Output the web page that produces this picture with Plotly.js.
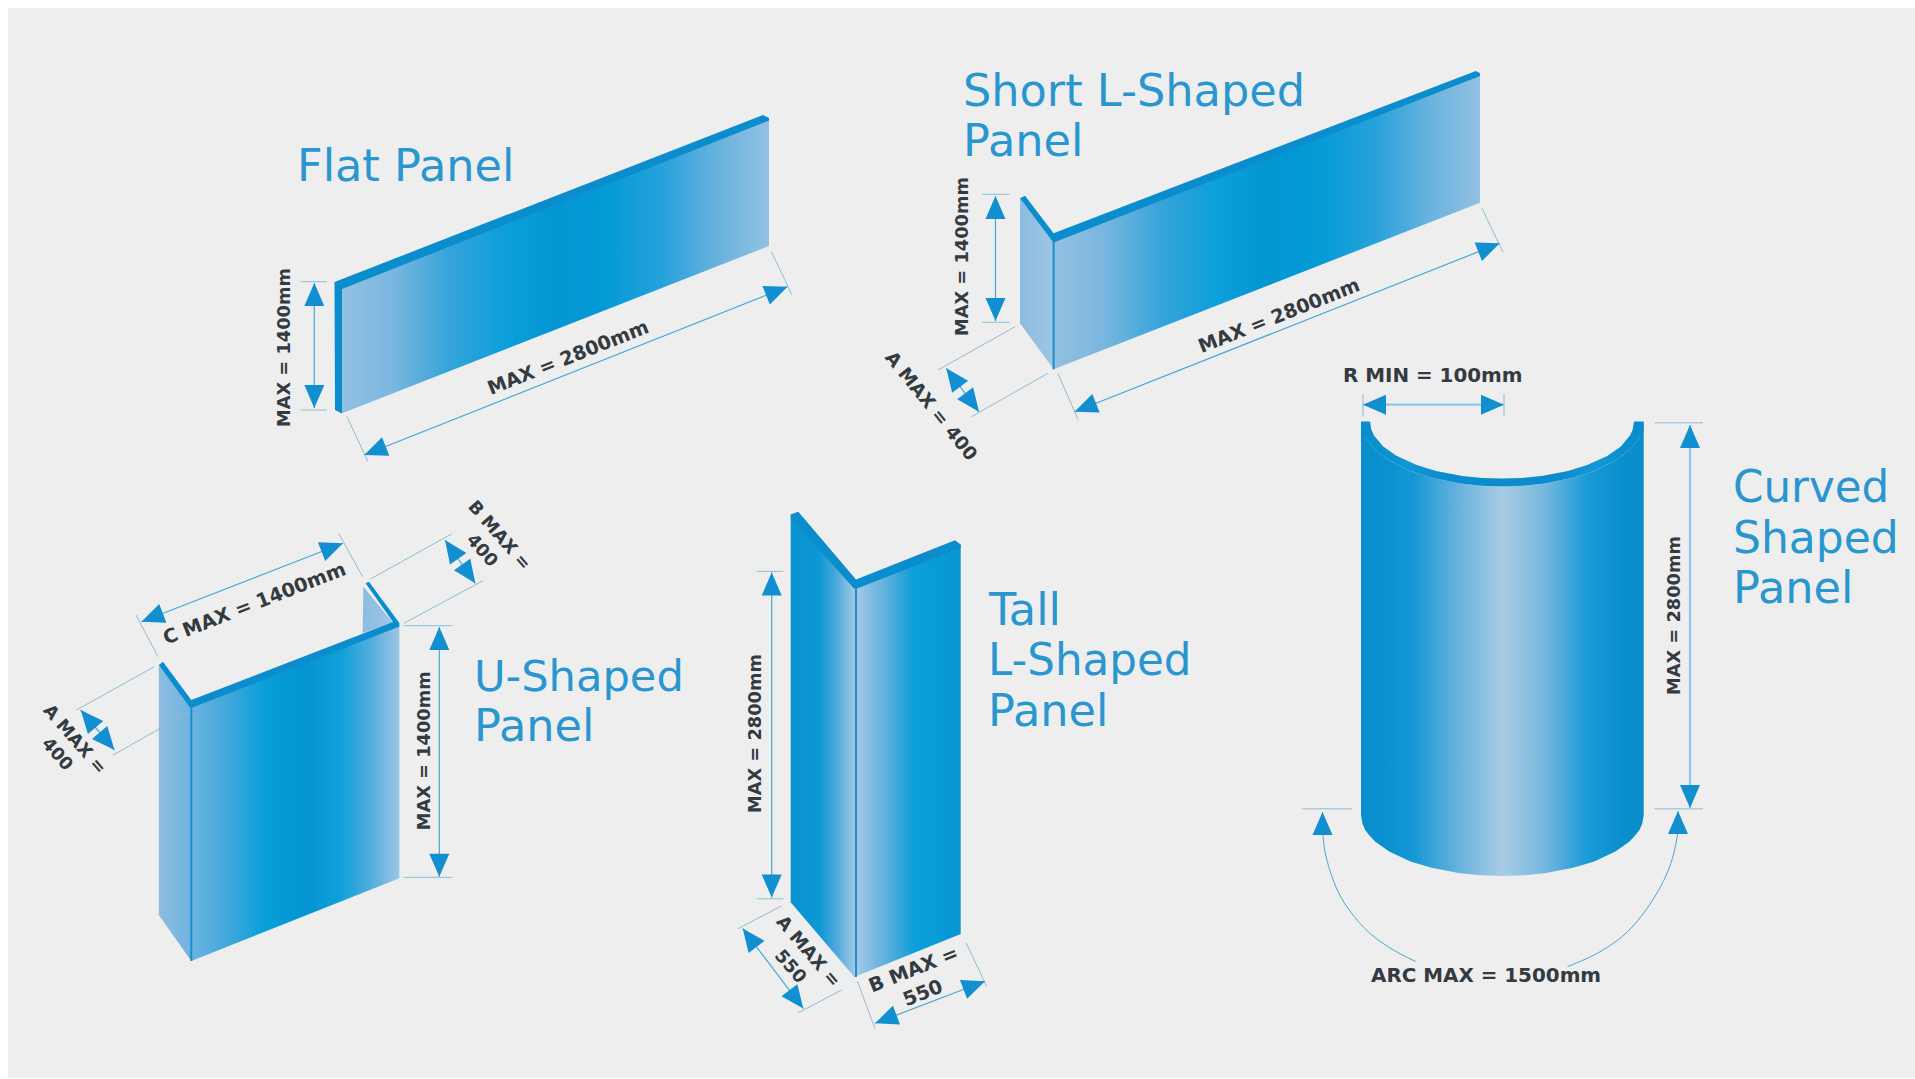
<!DOCTYPE html>
<html>
<head>
<meta charset="utf-8">
<script src="https://cdn.plot.ly/plotly-3.0.1.min.js"></script>
<style>html,body{margin:0;padding:0;background:#fff;overflow:hidden}#chart{width:1915px;height:1079px}</style>
</head>
<body>
<div id="chart"></div>
<script>
// ---------- Outlines (x, y in picture pixels) ----------
const backdrop = [[8,8],[1915,8],[1915,1078],[8,1078]];

const flatFace = [[342,288],[769,119.5],[769,246],[342,413.3]];
const flatBand = [[334.5,282],[763,115],[769,118],[769,120.5],[342,289],[342,413.5],[335,410]];

const shortSide = [[1020,198.3],[1053.6,241.7],[1053.6,369.3],[1020,323.3]];
const shortFace = [[1053.6,241.7],[1480,75],[1480,202.7],[1053.6,369.3]];
const shortBand = [[1020,198.3],[1025,195.7],[1053.6,233.3],[1475.8,71],[1480,73.3],[1480,76],[1055,242],[1053,242]];

const uLeftSide = [[158.8,665],[191.3,706.7],[191.3,961],[158.8,915]];
const uInnerSide = [[363.4,586.7],[393,622.7],[362.6,633]];
const uFace = [[191.3,706.7],[399.4,625.7],[399.4,878.3],[191.3,961]];
const uBand = [[158.8,665],[163,661.7],[191.3,700],[393,622],[365.6,583.3],[369,581.7],[399.4,623],[399.4,626.5],[192.5,707.5],[190,707.5]];

const tallLeft = [[790.7,514.6],[855,588],[855,977.7],[790.7,902.3]];
const tallRight = [[856.7,587.5],[960.7,544.4],[960.7,933.9],[856.7,976]];
const tallBand = [[790.7,514.6],[798.3,511.8],[856,579.5],[955,540.2],[960.7,544.4],[960.7,548],[857,588.5],[854,588.5],[790.7,518]];

const curvedBody = [[1361,421.5],[1362.4,431],[1365,437.3],[1375,449.8],[1389.2,460.5],[1410.4,470.9],[1431.6,477.8],[1459.9,483.5],[1481.1,485.8],[1502.3,486.5],[1523.5,485.8],[1544.7,483.5],[1573,477.8],[1594.2,470.9],[1615.4,460.5],[1629.6,449.8],[1639.6,437.3],[1642.3,431],[1643.7,421.5],
  [1643.7,815],[1642.3,823.6],[1639.6,829.8],[1636,834.5],[1629.6,841.6],[1615.4,851.6],[1594.2,861.4],[1573,867.8],[1544.7,873.2],[1523.5,875.3],[1502.3,876],[1481.1,875.3],[1459.9,873.2],[1431.6,867.8],[1410.4,861.4],[1389.2,851.6],[1375,841.6],[1368.6,834.5],[1365,829.8],[1362.4,823.6],[1361,815]];
const curvedBand = [[1361,421.5],[1370,421.5],[1371.3,429.5],[1374,435.4],[1383.2,446.4],[1396.4,455.7],[1416.2,464.8],[1436,470.9],[1462.4,475.9],[1482.2,477.9],[1502,478.5],[1521.8,477.9],[1541.6,475.9],[1568,470.9],[1587.8,464.8],[1607.6,455.7],[1620.8,446.4],[1630,435.4],[1632.7,429.5],[1634,421.5],[1643.7,421.5],
  [1643.7,432],[1639.6,437.3],[1629.6,449.8],[1615.4,460.5],[1594.2,470.9],[1573,477.8],[1544.7,483.5],[1523.5,485.8],[1502.3,486.5],[1481.1,485.8],[1459.9,483.5],[1431.6,477.8],[1410.4,470.9],[1389.2,460.5],[1375,449.8],[1365,437.3],[1361,432]];

// Corner fold lines
const foldLines = [[1053.6,241.7,1053.6,369.3],[191.3,706.7,191.3,961],[856,588,856,977]];

// Extension (tick) lines: x0,y0,x1,y1
const extensionLines = [
  [300.7,281.7,326.8,281.7],[300.7,410,326.8,410],[347,416.7,368,461.7],[771.4,251.7,792,295],
  [982,194.3,1009.4,194.3],[982,322.3,1009.4,322.3],[938,370,1015,326.7],[971.5,416.7,1048,373.3],[1057.8,373.3,1078,419.3],[1482,208.3,1503,252.3],
  [136,615,158,656.7],[338.7,533.3,362.6,576.7],[370.4,579,451.5,534],[403.8,623.3,483,580.7],[76.4,710,154.4,666.7],[113,755,190,711.7],[403.8,625.7,452.3,625.7],[403.8,877.3,452.3,877.3],
  [756.7,571.4,783.3,571.4],[756.7,898.8,783.3,898.8],[738.3,928.6,781.7,905.8],[798.3,1012.8,841.7,990],[857.3,981,875,1028.6],[966,942.6,986.7,986.5],
  [1363,394,1363,416.5],[1504,394,1504,416.5],[1654.6,422.8,1703,422.8],[1654.6,808.8,1703,808.8],[1302.3,808.8,1352,808.8]
];

// Double-headed dimension arrows: tip x0,y0, tip x1,y1
const dimensionArrows = [
  [314.3,283,314.3,408],[364.3,455,787.5,286.7],
  [995.5,196,995.5,321],[946.3,368.3,979,411.7],[1074.6,411.7,1499.7,243.3],
  [141.4,621.7,343,543.3],[445,540,475.3,583.3],[80.7,710,114.5,750],[439.3,627,439.3,876.7],
  [771.7,572.5,771.7,897.5],[742.7,928.6,803.3,1008.6],[875,1023.3,985,981.2]
];
const paleArrows = [[1363,404.7,1504,404.7],[1690,425,1690,808]];

// Curved arc (1500 mm) leaders and their heads
const arcLeft = [[1322.5,812],[1322.5,830],[1326.6,859],[1340.8,897],[1365,928.7],[1389.4,947.6],[1415.7,961.5]];
const arcRight = [[1678,810.9],[1678,830],[1670.8,863.5],[1654.6,897],[1628.3,931],[1600,951.8],[1567.6,966.6]];

// Panel titles: text, left x, centre y, size
const titleText = ["Flat Panel","Short L-Shaped","Panel","U-Shaped","Panel","Tall","L-Shaped","Panel","Curved","Shaped","Panel"];
const titleX = [295,961,961,472,472,986,986,986,1731,1731,1731];
const titleY = [166,91,141,676,726,610,660,711,487,537,588];
const titleSize = [44.6,44.6,44.6,43.2,44.6,44.6,43.6,44.6,43.6,44,44.6];

// Dimension labels: text, centre x, centre y, angle, size
const labelText = ["MAX = 1400mm","MAX = 2800mm","MAX = 1400mm","A MAX = 400","MAX = 2800mm","C MAX = 1400mm","B MAX =<br>400","A MAX =<br>400","MAX = 1400mm","MAX = 2800mm","A MAX =<br>550","B MAX =<br>550","R MIN = 100mm","MAX = 2800mm","ARC MAX = 1500mm"];
const labelX = [283,568,961,931.5,1279,254,491,66.5,423.3,754,800,918,1433,1673,1486];
const labelY = [348,357,257,405,315,603,542,746,751,734,957.5,981,375,616,975];
const labelAngle = [-90,-21.7,-90,51,-21.6,-21.3,49,49,-90,-90,49.4,-21.6,0,-90,0];
const labelSize = [17.8,19.2,17.8,18.4,19.2,19.4,17.6,17.6,17.8,17.8,18,19.5,19.9,17.8,19.9];

// ---------- Colours ----------
const BLUE = "#0b8dcd";
const flatRamp = [[0,"#93c0e2"],[0.12,"#79b6df"],[0.25,"#36a4da"],[0.38,"#0c9fd9"],[0.5,"#0396d3"],[0.62,"#049bd7"],[0.75,"#25a1da"],[0.88,"#68b2de"],[1,"#93c1e2"]];
const uRamp = [[0,"#6cb4df"],[0.2,"#3ba6db"],[0.35,"#08a0d9"],[0.55,"#0394d1"],[0.72,"#10a0d9"],[0.85,"#4cabdc"],[1,"#9cc5e5"]];
const shortSideRamp = [[0,"#8cbce0"],[1,"#9ec6e5"]];
const uSideRamp = [[0,"#8dbde1"],[1,"#6fb3df"]];
const tallLeftRamp = [[0,"#0792d1"],[0.45,"#0c99d6"],[0.7,"#4aa8da"],[1,"#a3c7e6"]];
const tallRightRamp = [[0,"#a3c7e6"],[0.3,"#5aaedc"],[0.55,"#0c9fd9"],[1,"#0596d3"]];
const curvedRamp = [[0,"#0a8dcd"],[0.08,"#0a90cf"],[0.186,"#1598d5"],[0.358,"#6db5de"],[0.5,"#a9cce5"],[0.645,"#78b8de"],[0.8,"#1a9ad6"],[0.92,"#0a8fce"],[1,"#0a8ccb"]];
const curvedBandRamp = [[0,"#0a8dcd"],[0.08,"#0a90cf"],[0.15,"#1196d4"],[0.3,"#0b8dcd"],[0.7,"#0b8dcd"],[0.83,"#1497d5"],[0.92,"#0a8fce"],[1,"#0a8ccb"]];

// ---------- Drawing helpers ----------
const xs = p => p.map(q => q[0]).concat(p[0][0]);
const ys = p => p.map(q => q[1]).concat(p[0][1]);
const base = {type:"scatter",hoverinfo:"skip",showlegend:false};
const solid = (p,c) => ({...base,x:xs(p),y:ys(p),mode:"lines",line:{width:0},fill:"toself",fillcolor:c});
const graded = (p,r) => ({...base,x:xs(p),y:ys(p),mode:"lines",line:{width:0},fill:"toself",fillcolor:"rgba(0,0,0,0)",fillgradient:{type:"horizontal",colorscale:r}});
function segs(list){
  const x=[],y=[];
  list.forEach(s=>{x.push(s[0],s[2],null);y.push(s[1],s[3],null);});
  return {x,y};
}
function head(tx,ty,dx,dy,L,W){
  const n=Math.hypot(dx,dy);dx/=n;dy/=n;
  return [[tx,ty],[tx+dx*L-dy*W,ty+dy*L+dx*W],[tx+dx*L+dy*W,ty+dy*L-dx*W]];
}
const headsX=[],headsY=[];
function addHead(h){h.forEach(q=>{headsX.push(q[0]);headsY.push(q[1]);});headsX.push(h[0][0],null);headsY.push(h[0][1],null);}
dimensionArrows.concat(paleArrows).forEach(a=>{
  const dx=a[2]-a[0],dy=a[3]-a[1];
  addHead(head(a[0],a[1],dx,dy,23,10));
  addHead(head(a[2],a[3],-dx,-dy,23,10));
});
addHead(head(arcLeft[0][0],arcLeft[0][1],0,1,23,10));
addHead(head(arcRight[0][0],arcRight[0][1],0,1,23,10));

const ext=segs(extensionLines), dim=segs(dimensionArrows), pale=segs(paleArrows), fold=segs(foldLines);
const data=[
  solid(backdrop,"#eeeeee"),
  graded(flatFace,flatRamp), solid(flatBand,BLUE),
  graded(shortSide,shortSideRamp), graded(shortFace,flatRamp), solid(shortBand,BLUE),
  graded(uInnerSide,shortSideRamp), graded(uLeftSide,uSideRamp), graded(uFace,uRamp), solid(uBand,BLUE),
  graded(tallLeft,tallLeftRamp), graded(tallRight,tallRightRamp), solid(tallBand,BLUE),
  graded(curvedBody,curvedRamp), graded(curvedBand,curvedBandRamp),
  {...base,x:fold.x,y:fold.y,mode:"lines",line:{color:"#1a8ecb",width:2}},
  {...base,x:ext.x,y:ext.y,mode:"lines",line:{color:"#8dbdd6",width:1}},
  {...base,x:dim.x,y:dim.y,mode:"lines",line:{color:"#45a8d8",width:1.2}},
  {...base,x:pale.x,y:pale.y,mode:"lines",line:{color:"#8ccbe8",width:2.2}},
  {...base,x:arcLeft.map(q=>q[0]),y:arcLeft.map(q=>q[1]),mode:"lines",line:{color:"#4ba8d2",width:1,shape:"spline"}},
  {...base,x:arcRight.map(q=>q[0]),y:arcRight.map(q=>q[1]),mode:"lines",line:{color:"#4ba8d2",width:1,shape:"spline"}},
  {...base,x:headsX,y:headsY,mode:"lines",line:{width:0},fill:"toself",fillcolor:"#128fd0"}
];

const annotations=[];
titleText.forEach((t,i)=>annotations.push({text:t,x:titleX[i],y:titleY[i],xref:"x",yref:"y",xanchor:"left",yanchor:"middle",showarrow:false,font:{family:"DejaVu Sans",size:titleSize[i],color:"#2a96d0"}}));
labelText.forEach((t,i)=>annotations.push({text:t,x:labelX[i],y:labelY[i],xref:"x",yref:"y",xanchor:"center",yanchor:"middle",align:"center",showarrow:false,textangle:labelAngle[i],font:{family:"DejaVu Sans",size:labelSize[i],weight:700,color:"#333a40"}}));

Plotly.newPlot("chart",data,{
  width:1915,height:1079,margin:{l:0,r:0,t:0,b:0},
  paper_bgcolor:"#ffffff",plot_bgcolor:"#ffffff",showlegend:false,
  xaxis:{range:[0,1915],visible:false,fixedrange:true},
  yaxis:{range:[1079,0],visible:false,fixedrange:true},
  annotations
},{displayModeBar:false,staticPlot:true});
</script>
</body>
</html>
